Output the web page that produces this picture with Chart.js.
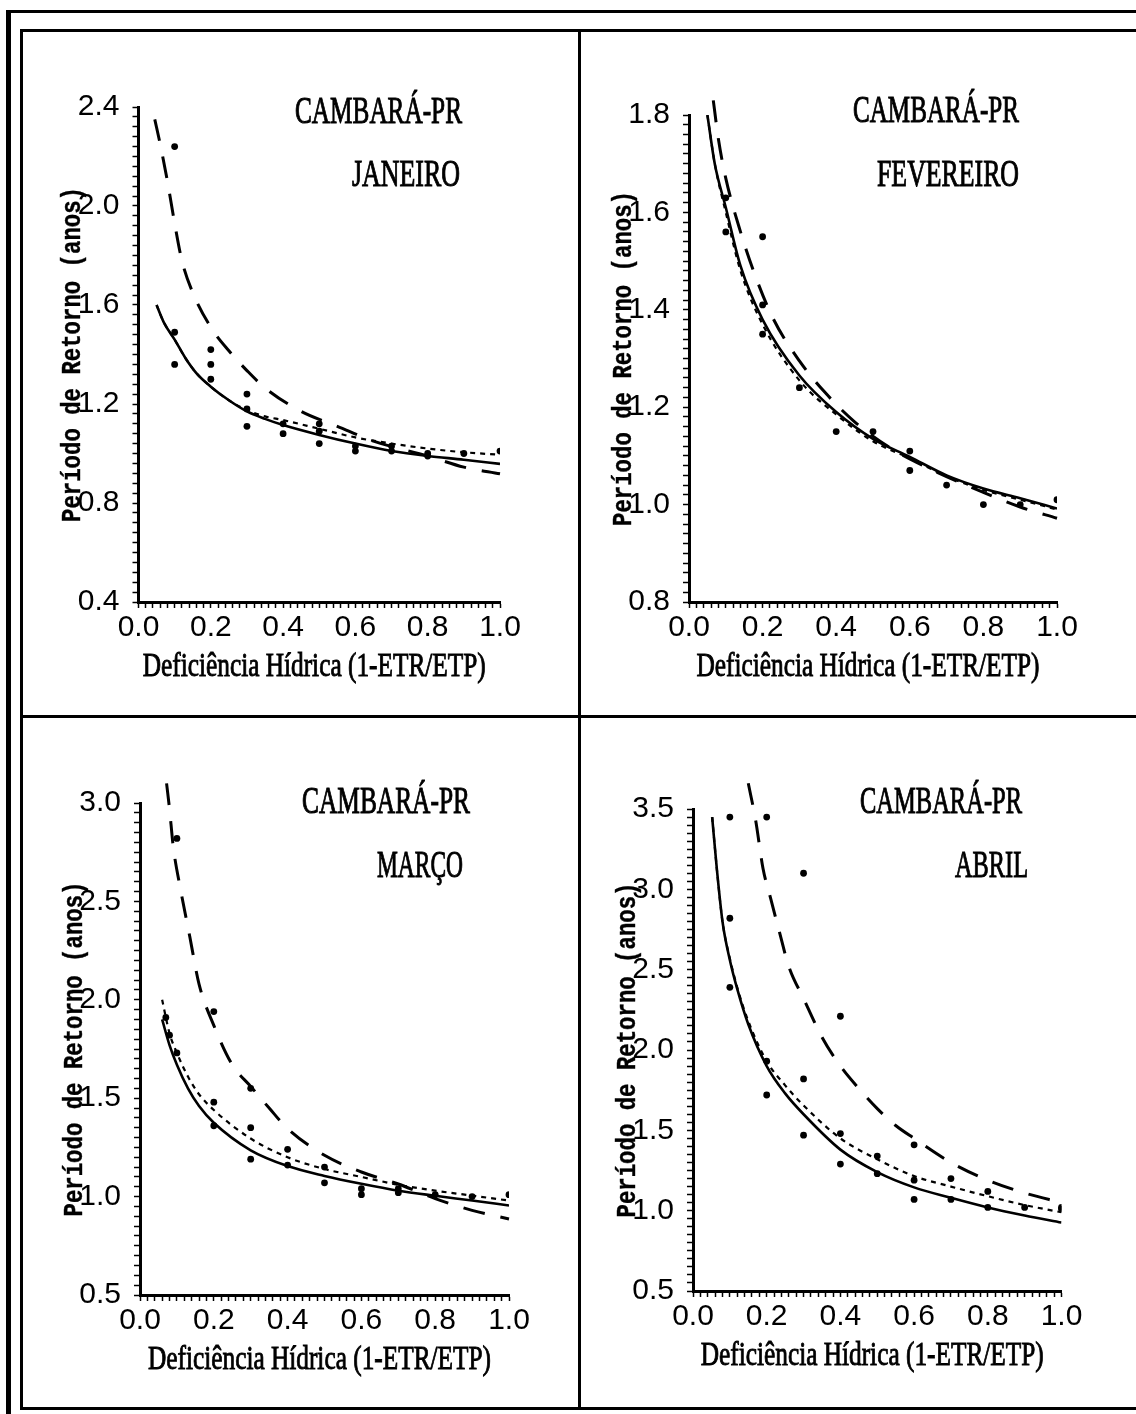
<!DOCTYPE html>
<html>
<head>
<meta charset="utf-8">
<script src="https://cdn.jsdelivr.net/npm/chart.js@4.4.1/dist/chart.umd.min.js"></script>
<style>
html, body { margin: 0; padding: 0; background: #fff; }
#page { position: relative; width: 1136px; height: 1414px; background: #fff; overflow: hidden; }
.ln { position: absolute; background: #000; }
canvas { position: absolute; }
</style>
</head>
<body>
<div id="page">
  <div class="ln" style="left:6px;top:10px;width:5px;height:1404px"></div>
  <div class="ln" style="left:6px;top:10px;width:1130px;height:3px"></div>
  <div class="ln" style="left:20px;top:29px;width:3px;height:1381px"></div>
  <div class="ln" style="left:20px;top:29px;width:1116px;height:3px"></div>
  <div class="ln" style="left:578px;top:29px;width:3px;height:1381px"></div>
  <div class="ln" style="left:20px;top:715px;width:1116px;height:3px"></div>
  <div class="ln" style="left:20px;top:1407px;width:1116px;height:3px"></div>
  <canvas id="c1" width="555" height="683" style="left:23px;top:32px"></canvas>
  <canvas id="c2" width="555" height="683" style="left:581px;top:32px"></canvas>
  <canvas id="c3" width="555" height="689" style="left:23px;top:718px"></canvas>
  <canvas id="c4" width="555" height="689" style="left:581px;top:718px"></canvas>
</div>
<script>
// ---------------- DATA ----------------
const station = 'CAMBARÁ-PR';
const months = ['JANEIRO', 'FEVEREIRO', 'MARÇO', 'ABRIL'];
const xAxisTitle = 'Deficiência Hídrica (1-ETR/ETP)';
const yAxisTitle = 'Período de Retorno (anos)';

// Janeiro
const janPtsX = [0.1, 0.1, 0.1, 0.2, 0.2, 0.2, 0.3, 0.3, 0.3, 0.4, 0.4, 0.5, 0.5, 0.5, 0.6, 0.6, 0.7, 0.7, 0.8, 0.8, 0.9, 1.0];
const janPtsY = [2.24, 1.49, 1.36, 1.42, 1.36, 1.30, 1.24, 1.18, 1.11, 1.12, 1.08, 1.12, 1.09, 1.04, 1.03, 1.01, 1.03, 1.01, 1.00, 0.99, 1.00, 1.01];
const janSolidX = [0.05, 0.07, 0.1, 0.13, 0.16, 0.2, 0.25, 0.3, 0.35, 0.4, 0.5, 0.6, 0.7, 0.8, 0.9, 1.0];
const janSolidY = [1.60, 1.53, 1.46, 1.385, 1.325, 1.27, 1.215, 1.17, 1.14, 1.115, 1.075, 1.04, 1.01, 0.99, 0.975, 0.958];
const janDottedX = [0.05, 0.07, 0.1, 0.13, 0.16, 0.2, 0.25, 0.3, 0.35, 0.4, 0.5, 0.6, 0.7, 0.8, 0.9, 1.0];
const janDottedY = [1.60, 1.53, 1.46, 1.385, 1.325, 1.27, 1.215, 1.175, 1.15, 1.135, 1.10, 1.065, 1.04, 1.02, 1.005, 0.995];
const janDashedX = [0.045, 0.06, 0.08, 0.1, 0.12, 0.15, 0.2, 0.25, 0.3, 0.35, 0.45, 0.55, 0.65, 0.8, 0.9, 1.0];
const janDashedY = [2.35, 2.25, 2.10, 1.93, 1.78, 1.65, 1.51, 1.415, 1.335, 1.265, 1.17, 1.11, 1.05, 0.99, 0.945, 0.918];

// Fevereiro
const febPtsX = [0.1, 0.1, 0.2, 0.2, 0.2, 0.3, 0.4, 0.5, 0.6, 0.6, 0.7, 0.8, 0.9, 1.0];
const febPtsY = [1.63, 1.56, 1.55, 1.41, 1.35, 1.24, 1.15, 1.15, 1.11, 1.07, 1.04, 1.00, 1.00, 1.01];
const febSolidX = [0.05, 0.07, 0.1, 0.14, 0.2, 0.3, 0.4, 0.5, 0.6, 0.7, 0.8, 0.9, 1.0];
const febSolidY = [1.80, 1.70, 1.61, 1.49, 1.38, 1.265, 1.19, 1.135, 1.098, 1.06, 1.033, 1.013, 0.992];
const febDottedX = [0.05, 0.07, 0.1, 0.14, 0.2, 0.3, 0.4, 0.5, 0.6, 0.7, 0.8, 0.9, 1.0];
const febDottedY = [1.80, 1.70, 1.60, 1.48, 1.37, 1.255, 1.185, 1.13, 1.095, 1.058, 1.03, 1.01, 0.99];
const febDashedX = [0.066, 0.08, 0.1, 0.14, 0.18, 0.23, 0.3, 0.37, 0.45, 0.55, 0.65, 0.8, 0.9, 1.0];
const febDashedY = [1.83, 1.75, 1.67, 1.56, 1.47, 1.38, 1.295, 1.23, 1.17, 1.115, 1.075, 1.025, 0.995, 0.972];

// Março
const marPtsX = [0.07, 0.08, 0.1, 0.1, 0.2, 0.2, 0.2, 0.3, 0.3, 0.3, 0.4, 0.4, 0.5, 0.5, 0.6, 0.6, 0.7, 0.7, 0.8, 0.9, 1.0];
const marPtsY = [1.91, 1.82, 2.82, 1.73, 1.94, 1.48, 1.36, 1.55, 1.35, 1.19, 1.24, 1.16, 1.15, 1.07, 1.04, 1.01, 1.04, 1.02, 1.01, 1.00, 1.01];
const marSolidX = [0.06, 0.08, 0.1, 0.13, 0.16, 0.2, 0.3, 0.4, 0.5, 0.6, 0.7, 0.8, 0.9, 1.0];
const marSolidY = [1.90, 1.77, 1.67, 1.55, 1.46, 1.375, 1.235, 1.155, 1.105, 1.065, 1.03, 1.004, 0.98, 0.955];
const marDottedX = [0.06, 0.08, 0.1, 0.13, 0.16, 0.2, 0.3, 0.4, 0.5, 0.6, 0.7, 0.8, 0.9, 1.0];
const marDottedY = [2.00, 1.83, 1.73, 1.61, 1.52, 1.44, 1.295, 1.20, 1.14, 1.10, 1.06, 1.03, 1.005, 0.98];
const marDashedX = [0.072, 0.08, 0.09, 0.11, 0.135, 0.16, 0.2, 0.25, 0.3, 0.35, 0.4, 0.5, 0.6, 0.7, 0.8, 0.9, 1.0];
const marDashedY = [3.10, 2.97, 2.78, 2.56, 2.32, 2.08, 1.87, 1.67, 1.56, 1.45, 1.345, 1.21, 1.125, 1.064, 0.99, 0.93, 0.886];

// Abril
const aprPtsX = [0.1, 0.1, 0.1, 0.2, 0.2, 0.2, 0.3, 0.3, 0.3, 0.4, 0.4, 0.4, 0.5, 0.5, 0.6, 0.6, 0.6, 0.7, 0.7, 0.8, 0.8, 0.9, 1.0, 1.0];
const aprPtsY = [3.45, 2.82, 2.39, 3.45, 1.93, 1.72, 3.10, 1.82, 1.47, 2.21, 1.48, 1.29, 1.34, 1.23, 1.41, 1.19, 1.07, 1.20, 1.07, 1.12, 1.02, 1.02, 1.01, 1.02];
const aprSolidX = [0.052, 0.065, 0.08, 0.1, 0.12, 0.15, 0.2, 0.25, 0.3, 0.4, 0.5, 0.6, 0.7, 0.8, 0.9, 1.0];
const aprSolidY = [3.45, 3.12, 2.80, 2.56, 2.38, 2.16, 1.90, 1.73, 1.60, 1.38, 1.24, 1.145, 1.08, 1.02, 0.97, 0.926];
const aprDottedX = [0.052, 0.065, 0.08, 0.1, 0.12, 0.15, 0.2, 0.25, 0.3, 0.4, 0.5, 0.6, 0.7, 0.8, 0.9, 1.0];
const aprDottedY = [3.45, 3.12, 2.80, 2.57, 2.39, 2.18, 1.93, 1.78, 1.655, 1.45, 1.32, 1.215, 1.15, 1.09, 1.035, 0.99];
const aprDashedX = [0.15, 0.17, 0.19, 0.21, 0.235, 0.26, 0.3, 0.35, 0.4, 0.45, 0.5, 0.55, 0.6, 0.7, 0.8, 0.9, 1.0];
const aprDashedY = [3.66, 3.43, 3.13, 2.95, 2.73, 2.52, 2.32, 2.08, 1.90, 1.76, 1.635, 1.53, 1.45, 1.30, 1.19, 1.11, 1.05];

// Axis ranges / ticks
const xRange = [0, 1.0];
const xMinorStep = 0.02, xMajorStep = 0.2;
const yRanges = [[0.4, 2.4], [0.8, 1.8], [0.5, 3.0], [0.5, 3.5]];
const yMinorSteps = [0.04, 0.02, 0.05, 0.05];
const yMajorSteps = [0.4, 0.2, 0.5, 0.5];

// ---------------- LAYOUT (page pixels) ----------------
const panels = [
  { canvas: 'c1', cx: 23, cy: 32, cw: 555, ch: 683, x0: 138.5, x1: 500, yTop: 107, yBot: 602,
    st: { x: 295, y: 123, w: 167 }, mo: { x: 352, y: 186, w: 108 } },
  { canvas: 'c2', cx: 581, cy: 32, cw: 555, ch: 683, x0: 689, x1: 1057, yTop: 115, yBot: 602,
    st: { x: 853, y: 122, w: 166 }, mo: { x: 877, y: 186, w: 142 } },
  { canvas: 'c3', cx: 23, cy: 718, cw: 555, ch: 689, x0: 140, x1: 509, yTop: 803, yBot: 1295,
    st: { x: 302, y: 813, w: 168 }, mo: { x: 377, y: 877, w: 86 } },
  { canvas: 'c4', cx: 581, cy: 718, cw: 555, ch: 689, x0: 693, x1: 1061.5, yTop: 809, yBot: 1291,
    st: { x: 860, y: 813, w: 162 }, mo: { x: 955, y: 877, w: 73 } }
];

const seriesSets = [
  { px: janPtsX, py: janPtsY, sx: janSolidX, sy: janSolidY, dx: janDottedX, dy: janDottedY, lx: janDashedX, ly: janDashedY },
  { px: febPtsX, py: febPtsY, sx: febSolidX, sy: febSolidY, dx: febDottedX, dy: febDottedY, lx: febDashedX, ly: febDashedY },
  { px: marPtsX, py: marPtsY, sx: marSolidX, sy: marSolidY, dx: marDottedX, dy: marDottedY, lx: marDashedX, ly: marDashedY },
  { px: aprPtsX, py: aprPtsY, sx: aprSolidX, sy: aprSolidY, dx: aprDottedX, dy: aprDottedY, lx: aprDashedX, ly: aprDashedY }
];

// ---------------- HELPERS ----------------
function pts(xs, ys) { return xs.map((x, i) => ({ x: x, y: ys[i] })); }
function majorLabel(step) {
  return function (v) {
    const r = v / step;
    return Math.abs(r - Math.round(r)) < 1e-6 ? Number(v).toFixed(1) : '';
  };
}
function drawFitted(ctx, text, font, x, y, targetW, align, rotate, stroke) {
  ctx.save();
  ctx.font = font;
  const w = ctx.measureText(text).width;
  const s = targetW / w;
  ctx.translate(x, y);
  if (rotate) ctx.rotate(-Math.PI / 2);
  ctx.scale(s, 1);
  ctx.textAlign = align;
  ctx.textBaseline = rotate ? 'middle' : 'alphabetic';
  ctx.fillStyle = '#000';
  ctx.fillText(text, 0, 0);
  if (stroke) {
    ctx.strokeStyle = '#000';
    ctx.lineWidth = stroke;
    ctx.strokeText(text, 0, 0);
  }
  ctx.restore();
}

const panelTextPlugin = {
  id: 'panelText',
  afterDraw(chart, args, o) {
    const ctx = chart.ctx;
    const g = o.g;
    const ox = g.cx, oy = g.cy;
    const serif = '"Liberation Serif", "Times New Roman", serif';
    drawFitted(ctx, station, '38px ' + serif, g.st.x - ox, g.st.y - oy, g.st.w, 'left', false, 1.0);
    drawFitted(ctx, o.month, '38px ' + serif, g.mo.x - ox, g.mo.y - oy, g.mo.w, 'left', false, 1.0);
    drawFitted(ctx, xAxisTitle, '33px ' + serif, (g.x0 + g.x1) / 2 - 5 - ox, g.yBot + 74 - oy, 343, 'center', false, 0.9);
    drawFitted(ctx, yAxisTitle, 'bold 27px "Liberation Mono", "Courier New", monospace',
      g.x0 - 65 - ox, (g.yTop + g.yBot) / 2 - oy, 335, 'center', true, 0.4);
  }
};

const WY = 60, HX = 40;
const tickFont = { family: '"Liberation Sans", Arial, sans-serif', size: 30 };

panels.forEach((g, i) => {
  const s = seriesSets[i];
  const padding = {
    left: g.x0 - g.cx - WY,
    top: g.yTop - g.cy,
    right: g.cx + g.cw - g.x1,
    bottom: g.cy + g.ch - g.yBot - HX
  };
  const gridOpts = { display: true, drawOnChartArea: false, drawTicks: true, tickLength: 6, tickWidth: 1.5, tickColor: '#000' };
  new Chart(document.getElementById(g.canvas), {
    type: 'scatter',
    data: {
      datasets: [
        { label: 'observado', data: pts(s.px, s.py), showLine: false, pointRadius: 3.4, pointBackgroundColor: '#000', pointBorderWidth: 0 },
        { label: 'ajuste 1', data: pts(s.sx, s.sy), showLine: true, borderColor: '#000', borderWidth: 2.6, pointRadius: 0, cubicInterpolationMode: 'monotone' },
        { label: 'ajuste 2', data: pts(s.dx, s.dy), showLine: true, borderColor: '#000', borderWidth: 2.2, borderDash: [5, 5], pointRadius: 0, cubicInterpolationMode: 'monotone' },
        { label: 'ajuste 3', data: pts(s.lx, s.ly), showLine: true, borderColor: '#000', borderWidth: 3, borderDash: [22, 16], pointRadius: 0, cubicInterpolationMode: 'monotone', clip: false }
      ]
    },
    options: {
      responsive: false,
      animation: false,
      devicePixelRatio: 1,
      layout: { padding: padding },
      plugins: {
        legend: { display: false },
        tooltip: { enabled: false },
        panelText: { g: g, month: months[i] }
      },
      scales: {
        x: {
          type: 'linear', position: 'bottom', min: xRange[0], max: xRange[1],
          afterFit: sc => { sc.height = HX; },
          ticks: { stepSize: xMinorStep, autoSkip: false, maxRotation: 0, minRotation: 0, padding: 2, color: '#000', font: tickFont, callback: majorLabel(xMajorStep) },
          grid: gridOpts,
          border: { display: true, color: '#000', width: 3 }
        },
        y: {
          type: 'linear', position: 'left', min: yRanges[i][0], max: yRanges[i][1],
          afterFit: sc => { sc.width = WY; },
          ticks: { stepSize: yMinorSteps[i], autoSkip: false, padding: 13, color: '#000', font: tickFont, callback: majorLabel(yMajorSteps[i]) },
          grid: gridOpts,
          border: { display: true, color: '#000', width: 3 }
        }
      }
    },
    plugins: [panelTextPlugin]
  });
});
</script>
</body>
</html>
